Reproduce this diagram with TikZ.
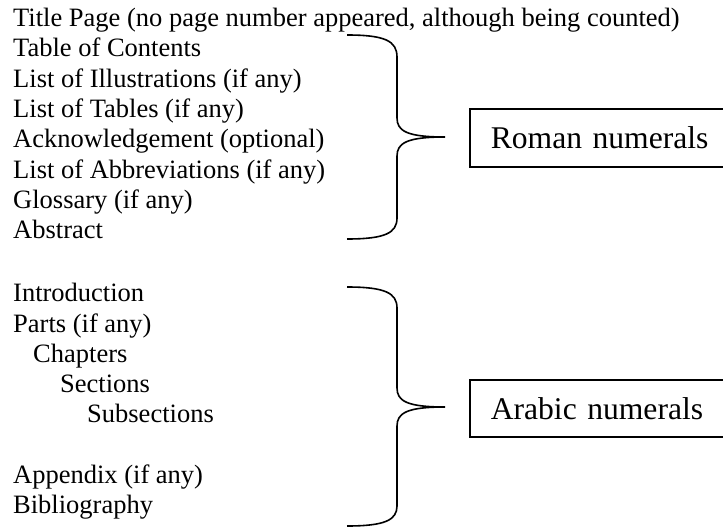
\documentclass[tikz,border=0pt]{standalone}
\usepackage{fontspec}
\setmainfont{Liberation Serif}
\begin{document}
\begin{tikzpicture}[x=1pt,y=-1pt,
  item/.style={anchor=base west,inner sep=0pt,font=\fontsize{26.5}{30.3}\selectfont},
  numbox/.style={draw,line width=1.6pt,anchor=west,inner xsep=21pt,inner ysep=0pt,
    minimum height=57.5pt,text width=240pt,align=left,font=\fontsize{31.6}{36}\selectfont},
  bracel/.style={line width=1.6pt}]
\clip (0,0) rectangle (723,527);
\fill[white] (0,0) rectangle (723,527);
% front matter
\node[item] (t1) at (13,26.7) {Title Page (no page number appeared, although being counted)};
\node[item] (t2) at (13,57.0) {Table of Contents};
\node[item] (t3) at (13,87.3) {List of Illustrations (if any)};
\node[item] (t4) at (13,117.6) {List of Tables (if any)};
\node[item] (t5) at (13,147.9) {Acknowledgement (optional)};
\node[item] (t6) at (13,178.2) {List of Abbreviations (if any)};
\node[item] (t7) at (13,208.5) {Glossary (if any)};
\node[item] (t8) at (13,238.8) {Abstract};
% main matter
\node[item] (m1) at (13,301.7) {Introduction};
\node[item] (m2) at (13,332.0) {Parts (if any)};
\node[item] (m3) at (33,362.3) {Chapters};
\node[item] (m4) at (60,392.6) {Sections};
\node[item] (m5) at (87,422.9) {Subsections};
\node[item] (m6) at (13,483.5) {Appendix (if any)};
\node[item] (m7) at (13,513.8) {Bibliography};
% boxes
\node[numbox] (roman) at (469,138) {Roman numerals};
\node[numbox] (arabic) at (469,408.5) {Arabic numerals};
% braces
\coordinate (b1top) at (347,35);
\coordinate (b1tip) at (445,137);
\coordinate (b1bot) at (347,239);
\draw[bracel] (b1top) .. controls (385,35) and (397,41) .. (397,57)
  -- (397,118) .. controls (397,131) and (407,137) .. (b1tip)
  .. controls (407,137) and (397,143) .. (397,156)
  -- (397,218) .. controls (397,233) and (385,239) .. (b1bot);
\coordinate (b2top) at (347,287);
\coordinate (b2tip) at (445,407);
\coordinate (b2bot) at (347,526);
\draw[bracel] (b2top) .. controls (385,287) and (397,293) .. (397,308)
  -- (397,388) .. controls (397,401) and (407,407) .. (b2tip)
  .. controls (407,407) and (397,413) .. (397,426)
  -- (397,506) .. controls (397,520) and (385,526) .. (b2bot);
\end{tikzpicture}
\end{document}
